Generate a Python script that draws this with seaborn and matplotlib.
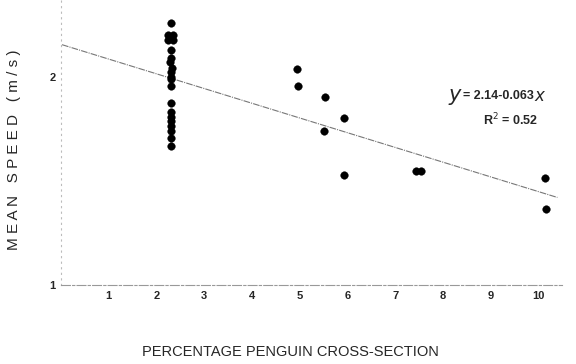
import matplotlib
matplotlib.use("Agg")
import matplotlib.pyplot as plt
import seaborn as sns
import pandas as pd
import numpy as np

# points
pct = [2.30, 2.24, 2.34, 2.24, 2.34, 2.30, 2.30, 2.28, 2.32, 2.30, 2.30, 2.30, 2.30,
       2.30, 2.30, 2.30, 2.30, 2.30, 2.30, 2.30, 2.30,
       4.94, 4.96, 5.52, 5.93, 5.50, 5.92, 7.44, 7.55, 10.15, 10.16]
speed = [2.23, 2.18, 2.18, 2.16, 2.16, 2.115, 2.08, 2.065, 2.04, 2.02, 2.00, 1.99, 1.96,
         1.89, 1.85, 1.83, 1.81, 1.79, 1.77, 1.74, 1.705,
         2.034, 1.96, 1.916, 1.826, 1.77, 1.58, 1.60, 1.60, 1.57, 1.435]

# fitted line given on the chart: y = 2.14 - 0.063x
intercept = 2.14
slope = -0.063
fit_x = [0.02, 10.4]

data = pd.DataFrame({"pct": pct, "speed": speed})
fit = pd.DataFrame({"x": fit_x, "y": [intercept + slope * v for v in fit_x]})

sns.set_style("white")
plt.rcParams['font.family'] = ['Liberation Sans', 'DejaVu Sans']

fig = plt.figure(figsize=(5.76, 3.64), dpi=100)
ax = fig.add_axes([0.106, 0.217, 0.87, 0.783])

sns.lineplot(data=fit, x="x", y="y", ax=ax, color="#777777", linewidth=0.8,
             linestyle=(0, (6, 1, 1, 1)))
sns.scatterplot(data=data, x="pct", y="speed", ax=ax, color="black", s=30,
                edgecolor="black", linewidth=0.3, zorder=3)

ax.set_xlim(0, 10.5)
ax.set_ylim(1.11, 2.33)

ax.set_xticks(range(1, 11))
ax.set_xticklabels([str(i) for i in range(1, 11)], fontsize=8, fontweight="bold")
ax.set_yticks([1.11, 2.0])
ax.set_yticklabels(["1", "2"], fontsize=8, fontweight="bold")
ax.tick_params(axis="both", direction="inout", length=4, width=0.7, color="#888888", pad=2)

for s in ["top", "right"]:
    ax.spines[s].set_visible(False)
ax.spines["left"].set_color("#bbbbbb")
ax.spines["left"].set_linewidth(0.8)
ax.spines["left"].set_linestyle((0, (1, 4)))
ax.spines["bottom"].set_color("#999999")
ax.spines["bottom"].set_linewidth(0.8)
ax.spines["bottom"].set_linestyle((0, (8, 2, 2, 2)))

ax.set_xlabel("PERCENTAGE PENGUIN CROSS-SECTION", fontsize=10.5, va="center")
ax.xaxis.set_label_coords(0.457, -0.235)
ax.set_ylabel("M E A N   S P E E D   ( m / s )", fontsize=11, va="center")
ax.yaxis.set_label_coords(-0.094, 0.474)

ax.text(8.1, 1.915, r"$\mathit{y}$", fontsize=15, ha="left", va="center")
ax.text(8.43, 1.92, "= 2.14-0.063", fontsize=9, fontweight="bold", ha="left", va="center")
ax.text(9.9, 1.918, r"$\mathit{x}$", fontsize=12, fontweight="bold", ha="left", va="center")
ax.text(8.85, 1.816, "R$^2$ = 0.52", fontsize=9, fontweight="bold", ha="left", va="center")

fig.savefig("out.png", dpi=100)
